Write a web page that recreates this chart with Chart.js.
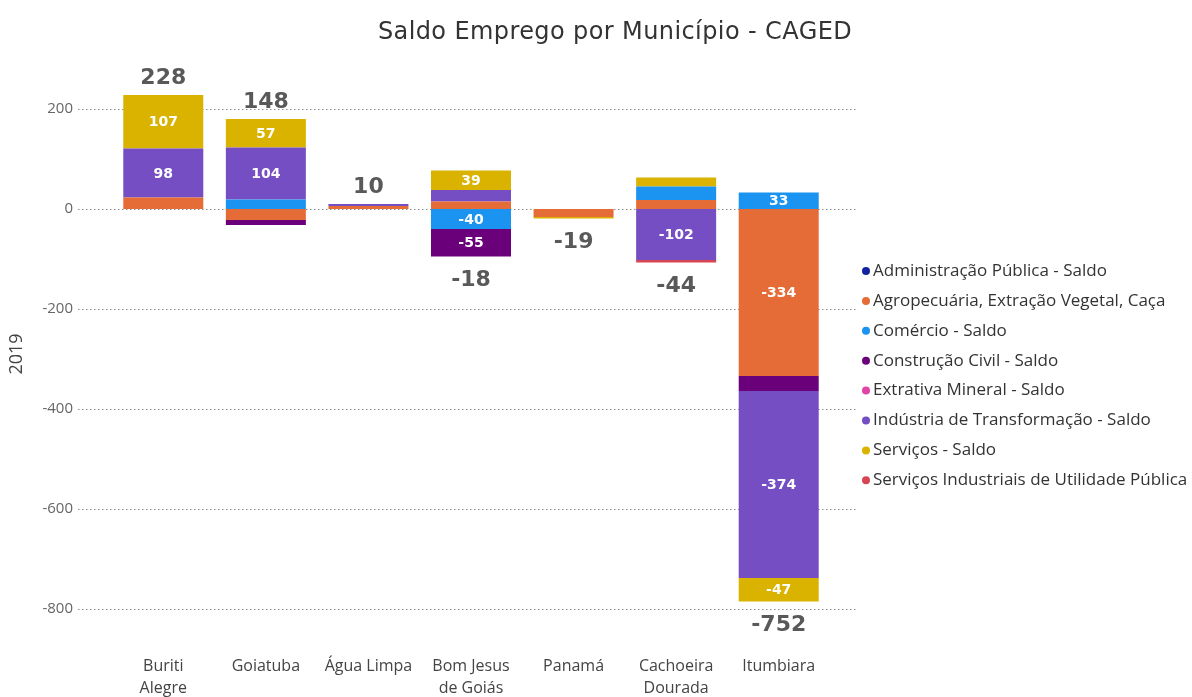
<!DOCTYPE html>
<html>
<head>
<meta charset="utf-8">
<script src="https://cdn.jsdelivr.net/npm/chart.js@4"></script>
<style>
  body { margin: 0; background: #fff; }
  #wrap { width: 1192px; height: 697px; }
</style>
</head>
<body>
<div id="wrap"><canvas id="cagedChart" width="1192" height="697"></canvas></div>
<script>
const municipios = [['Buriti', 'Alegre'], 'Goiatuba', 'Água Limpa', ['Bom Jesus', 'de Goiás'], 'Panamá', ['Cachoeira', 'Dourada'], 'Itumbiara'];

// saldo por setor, na ordem dos municípios acima
const adminPublica = [0, 0, 0, 0, 0, 0, 0];
const agropecuaria = [23, -22, 6, 15, -16, 18, -334];
const comercio     = [0, 19, 0, -40, 0, 27, 33];
const construcao   = [0, -10, 0, -55, 0, 0, -30];
const extrativa    = [0, 0, 0, 0, 0, 0, 0];
const industria    = [98, 104, 4, 23, 0, -102, -374];
const servicos     = [107, 57, 0, 39, -3, 18, -47];
const siup         = [0, 0, 0, 0, 0, -5, 0];

const yTicks = [-800, -600, -400, -200, 0, 200];

const setores = [
    { label: 'Administração Pública - Saldo', data: adminPublica, color: '#12239E' },
    { label: 'Agropecuária, Extração Vegetal, Caça', data: agropecuaria, color: '#E66C37' },
    { label: 'Comércio - Saldo', data: comercio, color: '#1A94F0' },
    { label: 'Construção Civil - Saldo', data: construcao, color: '#6B007B' },
    { label: 'Extrativa Mineral - Saldo', data: extrativa, color: '#E044A7' },
    { label: 'Indústria de Transformação - Saldo', data: industria, color: '#744EC2' },
    { label: 'Serviços - Saldo', data: servicos, color: '#D9B300' },
    { label: 'Serviços Industriais de Utilidade Pública', data: siup, color: '#D64550' },
];

const uiFont = "'Open Sans', 'Noto Sans', sans-serif";
const numFont = "'DejaVu Sans', sans-serif";

const extras = {
    id: 'extras',
    beforeDatasetsDraw(chart) {
        const { ctx, chartArea } = chart;
        const y = chart.scales.y;
        ctx.save();
        ctx.strokeStyle = '#8f8f8f';
        ctx.lineWidth = 1;
        ctx.setLineDash([1.5, 2.5]);
        y.ticks.forEach(t => {
            const py = Math.round(y.getPixelForValue(t.value)) + 0.5;
            ctx.beginPath();
            ctx.moveTo(chartArea.left - 34, py);
            ctx.lineTo(chartArea.right + 28, py);
            ctx.stroke();
        });
        ctx.restore();
    },
    afterDatasetsDraw(chart) {
        const { ctx } = chart;
        ctx.save();
        ctx.textAlign = 'center';
        ctx.textBaseline = 'middle';

        // rótulos dentro dos segmentos
        ctx.fillStyle = '#fff';
        ctx.font = 'bold 14px ' + numFont;
        chart.data.datasets.forEach((ds, i) => {
            const meta = chart.getDatasetMeta(i);
            meta.data.forEach((bar, j) => {
                const v = ds.data[j];
                if (Math.abs(v) < 31) return;
                ctx.fillText(String(v), bar.x, (bar.y + bar.base) / 2 + 1);
            });
        });

        // totais
        const x = chart.scales.x, y = chart.scales.y;
        ctx.fillStyle = '#595959';
        ctx.font = 'bold 22px ' + numFont;
        municipios.forEach((m, j) => {
            let pos = 0, neg = 0;
            setores.forEach(s => { if (s.data[j] > 0) pos += s.data[j]; else neg += s.data[j]; });
            const total = pos + neg;
            const px = x.getPixelForValue(j);
            if (total >= 0) ctx.fillText(String(total), px, y.getPixelForValue(pos) - 17);
            else ctx.fillText(String(total), px, y.getPixelForValue(neg) + 24);
        });
        ctx.restore();
    },
    afterDraw(chart) {
        const { ctx } = chart;
        ctx.save();
        // título
        ctx.fillStyle = '#333';
        ctx.font = '24px ' + numFont;
        ctx.letterSpacing = '0.4px';
        ctx.textAlign = 'center';
        ctx.textBaseline = 'middle';
        ctx.fillText('Saldo Emprego por Município - CAGED', 615, 33);
        ctx.letterSpacing = '0px';

        // legenda
        ctx.textAlign = 'left';
        ctx.font = '17px ' + uiFont;
        chart.data.datasets.forEach((ds, i) => {
            const ly = 271 + i * 29.9;
            ctx.fillStyle = ds.backgroundColor;
            ctx.beginPath();
            ctx.arc(866, ly, 4, 0, Math.PI * 2);
            ctx.fill();
            ctx.fillStyle = '#333';
            ctx.fillText(ds.label, 873, ly);
        });
        ctx.restore();
    }
};

new Chart(document.getElementById('cagedChart'), {
    type: 'bar',
    data: {
        labels: municipios,
        datasets: setores.map(s => ({
            label: s.label,
            data: s.data,
            backgroundColor: s.color,
            borderWidth: 0,
            barPercentage: 0.78,
            categoryPercentage: 1,
        }))
    },
    options: {
        responsive: false,
        animation: false,
        layout: { padding: { top: 69, right: 362, bottom: 0, left: 0 } },
        plugins: {
            legend: { display: false },
            title: { display: false },
            tooltip: { enabled: false },
        },
        scales: {
            x: {
                stacked: true,
                grid: { display: false },
                border: { display: false },
                ticks: { padding: 9, color: '#444', autoSkip: false, maxRotation: 0, font: { size: 16, lineHeight: 1.35, family: uiFont } },
                afterFit(s) { s.height = 58; }
            },
            y: {
                stacked: true,
                min: -860,
                max: 280,
                afterBuildTicks(s) { s.ticks = yTicks.map(v => ({ value: v })); },
                grid: { display: false, drawTicks: false },
                border: { display: false },
                ticks: { padding: 39, color: '#666', font: { size: 15, family: uiFont } },
                title: { display: true, text: '2019', color: '#444', font: { size: 18, family: uiFont }, padding: { top: 6 } },
                afterFit(s) { s.width = 112; }
            }
        }
    },
    plugins: [extras]
});
</script>
</body>
</html>
